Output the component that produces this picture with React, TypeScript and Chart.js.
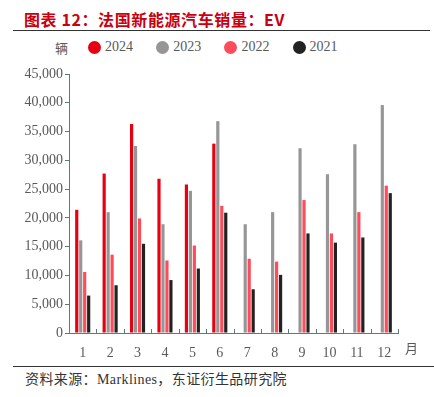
import React, { useEffect, useRef } from "react";
import { Chart, registerables } from "chart.js";

Chart.register(...registerables);

const months = ["1", "2", "3", "4", "5", "6", "7", "8", "9", "10", "11", "12"];
const seriesNames = ["2024", "2023", "2022", "2021"];
const seriesColors = ["#E60012", "#969696", "#FF4B5A", "#222222"];
const s2024 = [21400, 27700, 36300, 26800, 25800, 32900, null, null, null, null, null, null];
const s2023 = [16100, 21000, 32500, 18900, 24700, 36800, 18900, 21000, 32100, 27600, 32800, 39600];
const s2022 = [10600, 13600, 19900, 12600, 15200, 22100, 12900, 12400, 23100, 17300, 21000, 25600];
const s2021 = [6500, 8300, 15500, 9200, 11200, 20900, 7600, 10100, 17300, 15700, 16600, 24300];
const yMax = 45000;
const yStep = 5000;

const axisColor = "#5E7B7B";
const textColor = "#595959";
const serif = "'Liberation Serif', 'Times New Roman', serif";

const innerTicks = {
  id: "innerTicks",
  afterDraw(chart: any) {
    const x = chart.scales.x;
    const ctx = chart.ctx;
    const bottom = chart.chartArea.bottom;
    ctx.save();
    ctx.strokeStyle = axisColor;
    ctx.lineWidth = 1;
    for (let i = 0; i <= months.length; i++) {
      const px = Math.round(x.getPixelForValue(i - 0.5)) + 0.5;
      ctx.beginPath();
      ctx.moveTo(px, bottom);
      ctx.lineTo(px, bottom - 4);
      ctx.stroke();
    }
    ctx.restore();
  },
};

export default function App() {
  const ref = useRef<HTMLCanvasElement | null>(null);

  useEffect(() => {
    document.body.style.margin = "0";
    const data = [s2024, s2023, s2022, s2021];
    const chart = new Chart(ref.current as HTMLCanvasElement, {
      type: "bar",
      data: {
        labels: months,
        datasets: seriesNames.map((n, i) => ({
          label: n,
          data: data[i] as any,
          backgroundColor: seriesColors[i],
          borderWidth: 0,
          categoryPercentage: 0.58,
          barPercentage: 0.8,
        })),
      },
      options: {
        animation: false,
        responsive: false,
        maintainAspectRatio: false,
        layout: { padding: { left: 0, right: 36, top: 14, bottom: 0 } },
        plugins: { legend: { display: false }, tooltip: { enabled: false } },
        scales: {
          x: {
            grid: { display: false, drawTicks: false },
            border: { display: true, color: axisColor, width: 1 },
            ticks: { color: textColor, font: { family: serif, size: 14 }, padding: 12, maxRotation: 0 },
            afterFit: (s: any) => { s.height = 32; },
          },
          y: {
            min: 0,
            max: yMax,
            grid: { display: true, drawOnChartArea: false, drawTicks: true, tickLength: 4, color: axisColor },
            border: { display: true, color: axisColor, width: 1 },
            ticks: {
              stepSize: yStep,
              color: textColor,
              font: { family: serif, size: 14 },
              padding: 2,
              callback: (v: any) => Number(v).toLocaleString("en-US"),
            },
            afterFit: (s: any) => { s.width = 69; },
          },
        },
      },
      plugins: [innerTicks],
    });
    return () => chart.destroy();
  }, []);

  return (
    <div style={{ position: "relative", width: 434, height: 397, background: "#fff", overflow: "hidden" }}>
      <div
        style={{
          position: "absolute", left: 24, top: 7, color: "#C8000F", fontWeight: "bold",
          fontFamily: "'Noto Sans CJK SC', 'Liberation Serif', serif", fontSize: 16, letterSpacing: 0.6, whiteSpace: "nowrap",
        }}
      >
        图表 12：法国新能源汽车销量：EV
      </div>
      <div style={{ position: "absolute", left: 13, top: 30, width: 417, height: 1, background: "#333" }} />
      <div
        style={{
          position: "absolute", left: 55, top: 38, fontFamily: "'Noto Sans CJK SC', serif", fontSize: 13, color: textColor,
        }}
      >
        辆
      </div>
      {seriesNames.map((n, i) => (
        <div
          key={n}
          style={{
            position: "absolute", left: 88 + i * 68.2, top: 39, display: "flex", alignItems: "center",
            fontFamily: serif, fontSize: 14, color: textColor,
          }}
        >
          <span style={{ width: 13, height: 13, borderRadius: "50%", background: seriesColors[i], display: "inline-block", marginRight: 4 }} />
          <span>{n}</span>
        </div>
      ))}
      <canvas ref={ref} width={434} height={305} style={{ position: "absolute", left: 0, top: 60, width: 434, height: 305 }} />
      <div
        style={{
          position: "absolute", left: 405, top: 338, fontFamily: "'Noto Sans CJK SC', serif", fontSize: 13, color: textColor,
        }}
      >
        月
      </div>
      <div style={{ position: "absolute", left: 13, top: 366, width: 421, height: 1, background: "#333" }} />
      <div
        style={{
          position: "absolute", left: 25, top: 368, fontFamily: "'Liberation Serif', 'Noto Sans CJK SC', serif",
          fontSize: 14, letterSpacing: 0.4, color: "#333", whiteSpace: "nowrap",
        }}
      >
        资料来源：Marklines，东证衍生品研究院
      </div>
    </div>
  );
}
